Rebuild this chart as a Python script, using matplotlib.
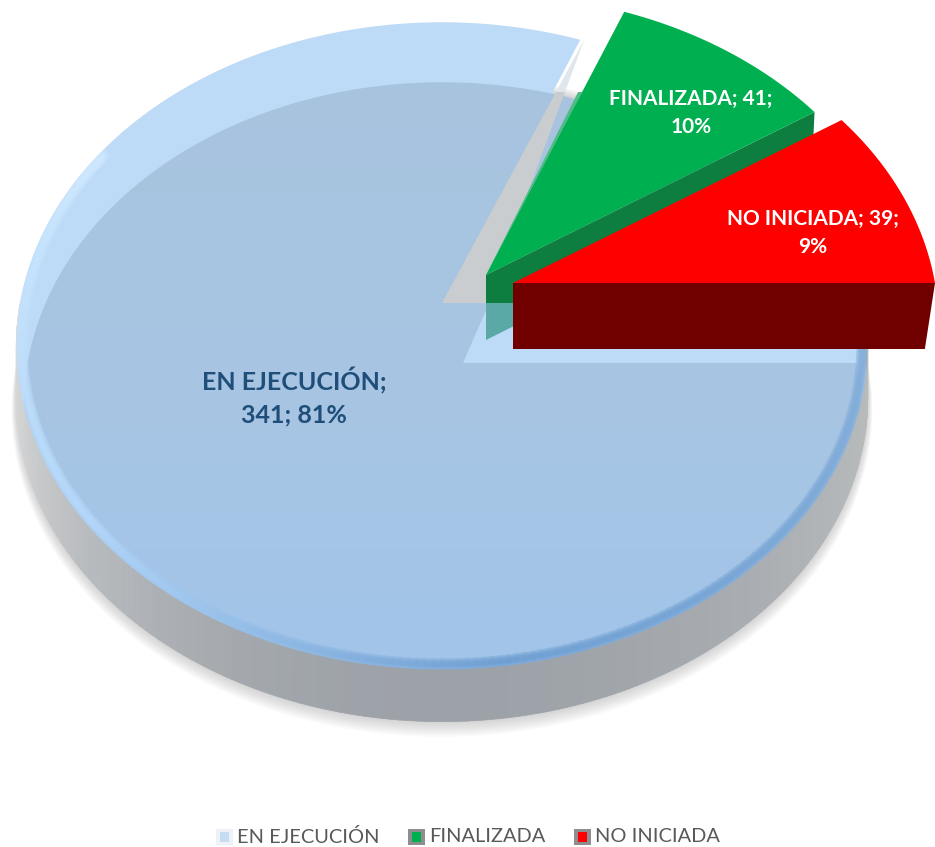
import numpy as np
import matplotlib
matplotlib.use("Agg")
import matplotlib.pyplot as plt
from matplotlib.collections import LineCollection, PolyCollection
from matplotlib.colors import LinearSegmentedColormap, to_rgb
from matplotlib.patches import Rectangle

# data
categories = ["EN EJECUCIÓN", "FINALIZADA", "NO INICIADA"]
values = [341, 41, 39]
percents = ["81%", "10%", "9%"]

plt.rcParams["font.family"] = ["Lato", "DejaVu Sans"]

# pie drawn in pixel space, perspective from a flat disc
X0, Y0 = 442, 303
BX, AY, K = 422, 318, 0.1327

# slices run clockwise from 3 o'clock
total = sum(values)
edges = -np.cumsum([0] + values) / total * 360


def project(theta, r=1.0):
    t = np.radians(theta)
    u, v = r * np.cos(t), r * np.sin(t)
    d = 1 + K * v
    return X0 + BX * u / d, Y0 - AY * v / d


def slice_xy(a1, a2, dx=0, dy=0):
    t = np.linspace(a1, a2, 200)
    x, y = project(t)
    return np.r_[X0, x] + dx, np.r_[Y0, y] + dy


def mix(c1, c2, f):
    return tuple(np.array(to_rgb(c1)) * (1 - f) + np.array(to_rgb(c2)) * f)


def clip_band(artist, y1, y2):
    artist.set_clip_path(Rectangle((0, y1), 935, y2 - y1, transform=ax.transData))


fig = plt.figure(figsize=(9.35, 8.47), dpi=100)
ax = fig.add_axes([0, 0, 1, 1])
ax.axis("off")

# whole disc outline
ring = np.linspace(0, 360, 361)
rx, ry = project(ring)

# soft shadow under the disc
for i in range(10):
    s = 1 + 0.0012 * i
    cx, cy = rx.mean(), 346
    ax.fill(cx + (rx - cx) * s, cy + (ry - cy) * s + 52 + i * 1.3,
            color="#808080", alpha=0.04, lw=0, zorder=1)

# top face, light
x_big, y_big = slice_xy(edges[0], edges[1])
top = ax.fill(x_big, y_big, color="#bddbf7", lw=0, zorder=3)[0]

# floor of the pie seen through the top, darker
cm = LinearSegmentedColormap.from_list("face", ["#a7c3de", "#a8c6e3", "#a0c4ea"])
img = ax.imshow(np.linspace(0, 1, 64).reshape(-1, 1), cmap=cm, aspect="auto",
                extent=(0, 935, 712, 60), zorder=4)
tf = np.linspace(edges[0], edges[1], 200)
xf, yf = project(tf)
cx = 441
xf = cx + (xf - cx) * 0.982
# less drop along the front so the floor stays behind the wall
yf = yf + 60 - 14 * np.clip(-np.sin(np.radians(tf)), 0, 1)
floor = ax.fill(np.r_[463, xf], np.r_[363, yf], color="none", lw=0, zorder=4)[0]
img.set_clip_path(floor)

# outer wall of the big slice
depth = 52
quads, cols = [], []
for i in range(180, 360):
    a, b = project(i), project(i + 1)
    quads.append([a, b, (b[0], b[1] + depth), (a[0], a[1] + depth)])
    f = (i - 180) / 180
    end = mix("#dedede", "#b8bbbb", f)
    cols.append(mix(end, "#9da2a8", np.sin(np.pi * f) ** 1.5))
ax.add_collection(PolyCollection(quads, facecolors=cols, edgecolors=cols, lw=0.5, zorder=4.5))

# bevel round the front edge
t = np.linspace(150, 380, 231)
px, py = project(t, 0.988)
pts = np.c_[px, py]
segs = np.stack([pts[:-1], pts[1:]], axis=1)
seg_cols = []
for a in t[:-1]:
    f = (a - 150) / 230
    if f < 0.3:
        seg_cols.append(mix("#cfe9ff", "#b4d8fb", f / 0.3))
    elif f < 0.55:
        seg_cols.append(mix("#b4d8fb", "#6f9fd2", (f - 0.3) / 0.25))
    else:
        seg_cols.append(mix("#6f9fd2", "#8fb6de", (f - 0.55) / 0.45))
for lw, al in [(9, 0.3), (6, 0.4), (3, 0.6)]:
    lc = LineCollection(segs, colors=seg_cols, linewidths=lw, alpha=al, zorder=5, capstyle="round")
    ax.add_collection(lc)
    lc.set_clip_path(top)

# cut wall of the big slice
ex, ey = project(edges[1])
wall_x = [X0, ex + 4, 487]
wall_y = [Y0, ey, Y0]
g1 = ax.fill(wall_x, wall_y, color="#dfe6ec", lw=0, zorder=6)[0]
clip_band(g1, 0, 92)
g2 = ax.fill(wall_x, wall_y, color="#c9cdd0", lw=0, zorder=6)[0]
clip_band(g2, 92, 400)

# FINALIZADA
gdx, gdy = 44, -28
gx, gy = slice_xy(edges[1], edges[2], gdx, gdy)
tipx, tipy = gx[1], gy[1]
ox, oy = project(edges[2])
ox, oy = ox + gdx, oy + gdy
apx, apy = X0 + gdx, Y0 + gdy
gw_x = [apx, ox, ox - 3, apx]
gw_y = [apy, oy, oy + 65, apy + 65]
w1 = ax.fill(gw_x, gw_y, color="#5aa9a6", lw=0, zorder=7)[0]
clip_band(w1, 303, 400)
w2 = ax.fill(gw_x, gw_y, color="#0e7d40", lw=0, zorder=7)[0]
clip_band(w2, 0, 303)
# pale strip on the left edge of the green slice
f = (92 - apy) / (tipy - apy)
ax.fill([apx, apx + (tipx - apx) * f, apx + (tipx - apx) * f - 4, apx],
        [apy, 92, 92, apy], color="#4fbb85", lw=0, zorder=7)
ax.fill(gx, gy, color="#00b050", lw=0, zorder=8)

# NO INICIADA
rdx, rdy = 71, -20
rx2, ry2 = slice_xy(edges[2], edges[3], rdx, rdy)
apx, apy = X0 + rdx, Y0 + rdy
ox, oy = project(edges[3])
ox, oy = ox + rdx, oy + rdy
ax.fill([apx, ox, apx + (ox - apx) * 0.976, apx],
        [apy, oy, oy + 66, apy + 66], color="#700000", lw=0, zorder=9)
ax.fill(rx2, ry2, color="#ff0000", lw=0, zorder=10)

# data labels
label_pos = [(294, 397), (691, 113), (813, 233)]
label_cols = ["#1f4e79", "white", "white"]
label_size = [18, 15, 15]
label_txt = [f"{categories[0]};\n{values[0]}; {percents[0]}",
             f"{categories[1]}; {values[1]};\n{percents[1]}",
             f"{categories[2]}; {values[2]};\n{percents[2]}"]
for (lx, ly), c, fs, s in zip(label_pos, label_cols, label_size, label_txt):
    ax.text(lx, ly, s, color=c, ha="center", va="center", fontsize=fs,
            fontweight="bold", linespacing=1.5, zorder=20)

# legend
key_x = [216, 408, 574]
text_x = [237, 429, 595]
key_cols = ["#c5dcf2", "#00b050", "#ff0000"]
key_edge = ["#eef2f6", "#8e8e8e", "#8e8e8e"]
for kx, tx, kc, ke, name in zip(key_x, text_x, key_cols, key_edge, categories):
    ax.add_patch(Rectangle((kx, 829), 17, 16, color=ke, lw=0, zorder=20))
    ax.add_patch(Rectangle((kx + 4, 832), 9, 10, color=kc, lw=0, zorder=21))
    ax.text(tx, 837, name, color="#595959", ha="left", va="center", fontsize=14.4, zorder=20)

ax.set_xlim(0, 935)
ax.set_ylim(847, 0)
fig.savefig("out.png", dpi=100)
